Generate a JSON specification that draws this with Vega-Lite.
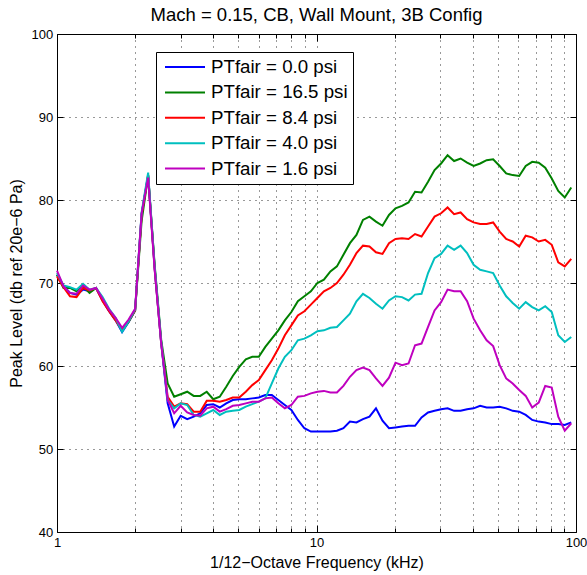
{
"$schema": "https://vega.github.io/schema/vega-lite/v6.json",
"width": 519, "height": 498,
"autosize": {"type": "none"},
"padding": {"left": 57, "top": 34, "right": 11, "bottom": 43},
"config": {"font": "Liberation Sans", "view": {"stroke": null}, "axis": {"domainColor": "black", "domainWidth": 1, "tickColor": "black", "labelColor": "black", "titleColor": "black", "titleFontWeight": "normal"}},
"title": {"text": "Mach = 0.15, CB, Wall Mount, 3B Config", "fontSize": 18.5, "fontWeight": "normal", "color": "black", "anchor": "middle", "offset": 3.5},
"data": {"values": [
{"f":1,"s":"0.0","v":71.0},{"f":1.0595,"s":"0.0","v":69.6},{"f":1.1225,"s":"0.0","v":68.8},{"f":1.1892,"s":"0.0","v":68.6},{"f":1.2599,"s":"0.0","v":69.2},{"f":1.3348,"s":"0.0","v":69.0},{"f":1.4142,"s":"0.0","v":69.4},{"f":1.4983,"s":"0.0","v":67.9},{"f":1.5874,"s":"0.0","v":66.6},{"f":1.6818,"s":"0.0","v":65.5},{"f":1.7818,"s":"0.0","v":64.1},{"f":1.8877,"s":"0.0","v":65.3},{"f":2,"s":"0.0","v":66.7},{"f":2.1189,"s":"0.0","v":78.3},{"f":2.2449,"s":"0.0","v":83.0},{"f":2.3784,"s":"0.0","v":71.8},{"f":2.5198,"s":"0.0","v":62.8},{"f":2.6697,"s":"0.0","v":55.5},{"f":2.8284,"s":"0.0","v":52.7},
{"f":2.9966,"s":"0.0","v":54.0},{"f":3.1748,"s":"0.0","v":53.6},{"f":3.3636,"s":"0.0","v":53.9},{"f":3.5636,"s":"0.0","v":54.3},{"f":3.7755,"s":"0.0","v":55.3},{"f":4,"s":"0.0","v":55.4},{"f":4.2379,"s":"0.0","v":55.0},{"f":4.4898,"s":"0.0","v":55.5},{"f":4.7568,"s":"0.0","v":55.9},{"f":5.0397,"s":"0.0","v":56.0},{"f":5.3394,"s":"0.0","v":56.0},{"f":5.6569,"s":"0.0","v":56.1},{"f":5.9932,"s":"0.0","v":56.2},{"f":6.3496,"s":"0.0","v":56.5},{"f":6.7272,"s":"0.0","v":56.5},{"f":7.1272,"s":"0.0","v":55.9},{"f":7.551,"s":"0.0","v":55.3},{"f":8,"s":"0.0","v":54.7},{"f":8.4757,"s":"0.0","v":53.5},{"f":8.9797,"s":"0.0","v":52.5},{"f":9.5137,"s":"0.0","v":52.1},{"f":10.0794,"s":"0.0","v":52.1},
{"f":10.6787,"s":"0.0","v":52.1},{"f":11.3137,"s":"0.0","v":52.1},{"f":11.9865,"s":"0.0","v":52.2},{"f":12.6992,"s":"0.0","v":52.5},{"f":13.4543,"s":"0.0","v":53.3},{"f":14.2544,"s":"0.0","v":53.2},{"f":15.102,"s":"0.0","v":53.6},{"f":16,"s":"0.0","v":53.9},{"f":16.9514,"s":"0.0","v":54.9},{"f":17.9594,"s":"0.0","v":53.4},{"f":19.0273,"s":"0.0","v":52.5},{"f":20.1587,"s":"0.0","v":52.6},{"f":21.3574,"s":"0.0","v":52.7},{"f":22.6274,"s":"0.0","v":52.8},{"f":23.973,"s":"0.0","v":52.8},{"f":25.3984,"s":"0.0","v":53.8},{"f":26.9087,"s":"0.0","v":54.4},{"f":28.5088,"s":"0.0","v":54.6},{"f":30.204,"s":"0.0","v":54.8},
{"f":32,"s":"0.0","v":54.9},{"f":33.9028,"s":"0.0","v":54.6},{"f":35.9188,"s":"0.0","v":54.6},{"f":38.0546,"s":"0.0","v":54.8},{"f":40.3175,"s":"0.0","v":54.9},{"f":42.7149,"s":"0.0","v":55.2},{"f":45.2548,"s":"0.0","v":55.0},{"f":47.946,"s":"0.0","v":55.0},{"f":50.7968,"s":"0.0","v":55.1},{"f":53.8174,"s":"0.0","v":54.9},{"f":57.0175,"s":"0.0","v":54.6},{"f":60.408,"s":"0.0","v":54.5},{"f":64,"s":"0.0","v":54.1},{"f":67.8056,"s":"0.0","v":53.5},{"f":71.8376,"s":"0.0","v":53.3},{"f":76.1093,"s":"0.0","v":53.2},{"f":80.6349,"s":"0.0","v":53.0},{"f":85.4298,"s":"0.0","v":53.0},{"f":90.5097,"s":"0.0","v":52.9},{"f":95.874,"s":"0.0","v":53.2},

{"f":1,"s":"16.5","v":71.0},{"f":1.0595,"s":"16.5","v":69.4},{"f":1.1225,"s":"16.5","v":69.4},{"f":1.1892,"s":"16.5","v":69.0},{"f":1.2599,"s":"16.5","v":69.6},{"f":1.3348,"s":"16.5","v":68.8},{"f":1.4142,"s":"16.5","v":69.4},{"f":1.4983,"s":"16.5","v":68.0},{"f":1.5874,"s":"16.5","v":66.7},{"f":1.6818,"s":"16.5","v":65.6},{"f":1.7818,"s":"16.5","v":64.3},{"f":1.8877,"s":"16.5","v":65.3},{"f":2,"s":"16.5","v":66.7},{"f":2.1189,"s":"16.5","v":77.5},{"f":2.2449,"s":"16.5","v":82.9},{"f":2.3784,"s":"16.5","v":72.2},{"f":2.5198,"s":"16.5","v":63.2},{"f":2.6697,"s":"16.5","v":57.9},{"f":2.8284,"s":"16.5","v":56.3},
{"f":2.9966,"s":"16.5","v":56.6},{"f":3.1748,"s":"16.5","v":56.9},{"f":3.3636,"s":"16.5","v":56.4},{"f":3.5636,"s":"16.5","v":56.4},{"f":3.7755,"s":"16.5","v":56.9},{"f":4,"s":"16.5","v":56.0},{"f":4.2379,"s":"16.5","v":56.3},{"f":4.4898,"s":"16.5","v":57.5},{"f":4.7568,"s":"16.5","v":58.8},{"f":5.0397,"s":"16.5","v":59.9},{"f":5.3394,"s":"16.5","v":60.8},{"f":5.6569,"s":"16.5","v":61.1},{"f":5.9932,"s":"16.5","v":61.1},{"f":6.3496,"s":"16.5","v":62.3},{"f":6.7272,"s":"16.5","v":63.3},{"f":7.1272,"s":"16.5","v":64.3},{"f":7.551,"s":"16.5","v":65.5},{"f":8,"s":"16.5","v":66.5},{"f":8.4757,"s":"16.5","v":67.8},{"f":8.9797,"s":"16.5","v":68.4},{"f":9.5137,"s":"16.5","v":69.0},{"f":10.0794,"s":"16.5","v":70.0},
{"f":10.6787,"s":"16.5","v":70.4},{"f":11.3137,"s":"16.5","v":71.4},{"f":11.9865,"s":"16.5","v":72.0},{"f":12.6992,"s":"16.5","v":73.4},{"f":13.4543,"s":"16.5","v":74.8},{"f":14.2544,"s":"16.5","v":75.8},{"f":15.102,"s":"16.5","v":77.6},{"f":16,"s":"16.5","v":78.0},{"f":16.9514,"s":"16.5","v":77.4},{"f":17.9594,"s":"16.5","v":76.9},{"f":19.0273,"s":"16.5","v":78.2},{"f":20.1587,"s":"16.5","v":79.0},{"f":21.3574,"s":"16.5","v":79.3},{"f":22.6274,"s":"16.5","v":79.7},{"f":23.973,"s":"16.5","v":81.0},{"f":25.3984,"s":"16.5","v":80.9},{"f":26.9087,"s":"16.5","v":82.2},{"f":28.5088,"s":"16.5","v":83.6},{"f":30.204,"s":"16.5","v":84.4},
{"f":32,"s":"16.5","v":85.4},{"f":33.9028,"s":"16.5","v":84.7},{"f":35.9188,"s":"16.5","v":85.0},{"f":38.0546,"s":"16.5","v":84.5},{"f":40.3175,"s":"16.5","v":84.1},{"f":42.7149,"s":"16.5","v":84.4},{"f":45.2548,"s":"16.5","v":84.8},{"f":47.946,"s":"16.5","v":84.9},{"f":50.7968,"s":"16.5","v":84.1},{"f":53.8174,"s":"16.5","v":83.2},{"f":57.0175,"s":"16.5","v":83.0},{"f":60.408,"s":"16.5","v":82.9},{"f":64,"s":"16.5","v":84.1},{"f":67.8056,"s":"16.5","v":84.6},{"f":71.8376,"s":"16.5","v":84.5},{"f":76.1093,"s":"16.5","v":83.9},{"f":80.6349,"s":"16.5","v":82.6},{"f":85.4298,"s":"16.5","v":81.1},{"f":90.5097,"s":"16.5","v":80.3},{"f":95.874,"s":"16.5","v":81.5},

{"f":1,"s":"8.4","v":70.8},{"f":1.0595,"s":"8.4","v":69.5},{"f":1.1225,"s":"8.4","v":68.4},{"f":1.1892,"s":"8.4","v":68.3},{"f":1.2599,"s":"8.4","v":69.4},{"f":1.3348,"s":"8.4","v":69.1},{"f":1.4142,"s":"8.4","v":69.4},{"f":1.4983,"s":"8.4","v":67.8},{"f":1.5874,"s":"8.4","v":66.6},{"f":1.6818,"s":"8.4","v":65.5},{"f":1.7818,"s":"8.4","v":64.3},{"f":1.8877,"s":"8.4","v":65.4},{"f":2,"s":"8.4","v":66.7},{"f":2.1189,"s":"8.4","v":78.2},{"f":2.2449,"s":"8.4","v":83.0},{"f":2.3784,"s":"8.4","v":71.8},{"f":2.5198,"s":"8.4","v":62.8},{"f":2.6697,"s":"8.4","v":56.3},{"f":2.8284,"s":"8.4","v":55.1},
{"f":2.9966,"s":"8.4","v":55.5},{"f":3.1748,"s":"8.4","v":55.4},{"f":3.3636,"s":"8.4","v":54.5},{"f":3.5636,"s":"8.4","v":54.5},{"f":3.7755,"s":"8.4","v":55.8},{"f":4,"s":"8.4","v":55.8},{"f":4.2379,"s":"8.4","v":55.7},{"f":4.4898,"s":"8.4","v":55.9},{"f":4.7568,"s":"8.4","v":56.2},{"f":5.0397,"s":"8.4","v":56.2},{"f":5.3394,"s":"8.4","v":56.9},{"f":5.6569,"s":"8.4","v":57.7},{"f":5.9932,"s":"8.4","v":58.3},{"f":6.3496,"s":"8.4","v":59.5},{"f":6.7272,"s":"8.4","v":60.7},{"f":7.1272,"s":"8.4","v":62.1},{"f":7.551,"s":"8.4","v":63.7},{"f":8,"s":"8.4","v":64.9},{"f":8.4757,"s":"8.4","v":66.1},{"f":8.9797,"s":"8.4","v":66.6},{"f":9.5137,"s":"8.4","v":67.4},{"f":10.0794,"s":"8.4","v":68.2},
{"f":10.6787,"s":"8.4","v":69.0},{"f":11.3137,"s":"8.4","v":69.4},{"f":11.9865,"s":"8.4","v":70.0},{"f":12.6992,"s":"8.4","v":71.0},{"f":13.4543,"s":"8.4","v":72.2},{"f":14.2544,"s":"8.4","v":73.6},{"f":15.102,"s":"8.4","v":74.5},{"f":16,"s":"8.4","v":74.4},{"f":16.9514,"s":"8.4","v":73.7},{"f":17.9594,"s":"8.4","v":73.5},{"f":19.0273,"s":"8.4","v":74.8},{"f":20.1587,"s":"8.4","v":75.3},{"f":21.3574,"s":"8.4","v":75.4},{"f":22.6274,"s":"8.4","v":75.3},{"f":23.973,"s":"8.4","v":75.9},{"f":25.3984,"s":"8.4","v":75.6},{"f":26.9087,"s":"8.4","v":76.8},{"f":28.5088,"s":"8.4","v":78.0},{"f":30.204,"s":"8.4","v":78.4},
{"f":32,"s":"8.4","v":79.1},{"f":33.9028,"s":"8.4","v":78.3},{"f":35.9188,"s":"8.4","v":78.5},{"f":38.0546,"s":"8.4","v":77.7},{"f":40.3175,"s":"8.4","v":77.3},{"f":42.7149,"s":"8.4","v":77.1},{"f":45.2548,"s":"8.4","v":77.1},{"f":47.946,"s":"8.4","v":77.3},{"f":50.7968,"s":"8.4","v":76.2},{"f":53.8174,"s":"8.4","v":75.3},{"f":57.0175,"s":"8.4","v":75.0},{"f":60.408,"s":"8.4","v":74.4},{"f":64,"s":"8.4","v":75.7},{"f":67.8056,"s":"8.4","v":75.5},{"f":71.8376,"s":"8.4","v":75.0},{"f":76.1093,"s":"8.4","v":75.2},{"f":80.6349,"s":"8.4","v":74.6},{"f":85.4298,"s":"8.4","v":72.5},{"f":90.5097,"s":"8.4","v":72.0},{"f":95.874,"s":"8.4","v":72.9},

{"f":1,"s":"4.0","v":71.2},{"f":1.0595,"s":"4.0","v":69.7},{"f":1.1225,"s":"4.0","v":69.5},{"f":1.1892,"s":"4.0","v":69.2},{"f":1.2599,"s":"4.0","v":69.9},{"f":1.3348,"s":"4.0","v":69.2},{"f":1.4142,"s":"4.0","v":69.4},{"f":1.4983,"s":"4.0","v":68.3},{"f":1.5874,"s":"4.0","v":66.9},{"f":1.6818,"s":"4.0","v":65.8},{"f":1.7818,"s":"4.0","v":64.1},{"f":1.8877,"s":"4.0","v":65.4},{"f":2,"s":"4.0","v":66.8},{"f":2.1189,"s":"4.0","v":78.5},{"f":2.2449,"s":"4.0","v":83.3},{"f":2.3784,"s":"4.0","v":72.0},{"f":2.5198,"s":"4.0","v":63.0},{"f":2.6697,"s":"4.0","v":55.9},{"f":2.8284,"s":"4.0","v":54.9},
{"f":2.9966,"s":"4.0","v":55.5},{"f":3.1748,"s":"4.0","v":55.3},{"f":3.3636,"s":"4.0","v":54.1},{"f":3.5636,"s":"4.0","v":53.9},{"f":3.7755,"s":"4.0","v":54.3},{"f":4,"s":"4.0","v":54.7},{"f":4.2379,"s":"4.0","v":54.1},{"f":4.4898,"s":"4.0","v":54.5},{"f":4.7568,"s":"4.0","v":54.6},{"f":5.0397,"s":"4.0","v":54.7},{"f":5.3394,"s":"4.0","v":55.1},{"f":5.6569,"s":"4.0","v":55.4},{"f":5.9932,"s":"4.0","v":55.7},{"f":6.3496,"s":"4.0","v":56.1},{"f":6.7272,"s":"4.0","v":57.9},{"f":7.1272,"s":"4.0","v":59.7},{"f":7.551,"s":"4.0","v":61.1},{"f":8,"s":"4.0","v":61.9},{"f":8.4757,"s":"4.0","v":63.1},{"f":8.9797,"s":"4.0","v":63.3},{"f":9.5137,"s":"4.0","v":63.7},{"f":10.0794,"s":"4.0","v":64.2},
{"f":10.6787,"s":"4.0","v":64.3},{"f":11.3137,"s":"4.0","v":64.6},{"f":11.9865,"s":"4.0","v":64.7},{"f":12.6992,"s":"4.0","v":65.5},{"f":13.4543,"s":"4.0","v":66.3},{"f":14.2544,"s":"4.0","v":67.8},{"f":15.102,"s":"4.0","v":68.7},{"f":16,"s":"4.0","v":68.2},{"f":16.9514,"s":"4.0","v":67.5},{"f":17.9594,"s":"4.0","v":66.9},{"f":19.0273,"s":"4.0","v":67.9},{"f":20.1587,"s":"4.0","v":68.4},{"f":21.3574,"s":"4.0","v":68.3},{"f":22.6274,"s":"4.0","v":67.9},{"f":23.973,"s":"4.0","v":68.6},{"f":25.3984,"s":"4.0","v":68.7},{"f":26.9087,"s":"4.0","v":71.2},{"f":28.5088,"s":"4.0","v":73.0},{"f":30.204,"s":"4.0","v":73.5},
{"f":32,"s":"4.0","v":74.5},{"f":33.9028,"s":"4.0","v":74.0},{"f":35.9188,"s":"4.0","v":74.5},{"f":38.0546,"s":"4.0","v":73.6},{"f":40.3175,"s":"4.0","v":72.2},{"f":42.7149,"s":"4.0","v":71.6},{"f":45.2548,"s":"4.0","v":71.4},{"f":47.946,"s":"4.0","v":71.2},{"f":50.7968,"s":"4.0","v":69.7},{"f":53.8174,"s":"4.0","v":68.4},{"f":57.0175,"s":"4.0","v":67.6},{"f":60.408,"s":"4.0","v":66.9},{"f":64,"s":"4.0","v":67.7},{"f":67.8056,"s":"4.0","v":67.1},{"f":71.8376,"s":"4.0","v":66.7},{"f":76.1093,"s":"4.0","v":67.2},{"f":80.6349,"s":"4.0","v":66.5},{"f":85.4298,"s":"4.0","v":63.7},{"f":90.5097,"s":"4.0","v":62.9},{"f":95.874,"s":"4.0","v":63.5},

{"f":1,"s":"1.6","v":71.5},{"f":1.0595,"s":"1.6","v":69.6},{"f":1.1225,"s":"1.6","v":68.8},{"f":1.1892,"s":"1.6","v":68.7},{"f":1.2599,"s":"1.6","v":69.7},{"f":1.3348,"s":"1.6","v":69.2},{"f":1.4142,"s":"1.6","v":69.4},{"f":1.4983,"s":"1.6","v":68.1},{"f":1.5874,"s":"1.6","v":66.8},{"f":1.6818,"s":"1.6","v":65.8},{"f":1.7818,"s":"1.6","v":64.6},{"f":1.8877,"s":"1.6","v":65.6},{"f":2,"s":"1.6","v":66.9},{"f":2.1189,"s":"1.6","v":78.4},{"f":2.2449,"s":"1.6","v":82.7},{"f":2.3784,"s":"1.6","v":71.6},{"f":2.5198,"s":"1.6","v":62.8},{"f":2.6697,"s":"1.6","v":55.9},{"f":2.8284,"s":"1.6","v":54.3},
{"f":2.9966,"s":"1.6","v":55.2},{"f":3.1748,"s":"1.6","v":54.4},{"f":3.3636,"s":"1.6","v":54.1},{"f":3.5636,"s":"1.6","v":54.0},{"f":3.7755,"s":"1.6","v":54.9},{"f":4,"s":"1.6","v":55.1},{"f":4.2379,"s":"1.6","v":54.5},{"f":4.4898,"s":"1.6","v":54.8},{"f":4.7568,"s":"1.6","v":55.2},{"f":5.0397,"s":"1.6","v":55.3},{"f":5.3394,"s":"1.6","v":55.5},{"f":5.6569,"s":"1.6","v":55.7},{"f":5.9932,"s":"1.6","v":55.7},{"f":6.3496,"s":"1.6","v":56.1},{"f":6.7272,"s":"1.6","v":56.2},{"f":7.1272,"s":"1.6","v":55.5},{"f":7.551,"s":"1.6","v":54.9},{"f":8,"s":"1.6","v":55.3},{"f":8.4757,"s":"1.6","v":56.3},{"f":8.9797,"s":"1.6","v":56.4},{"f":9.5137,"s":"1.6","v":56.7},{"f":10.0794,"s":"1.6","v":56.9},
{"f":10.6787,"s":"1.6","v":57.0},{"f":11.3137,"s":"1.6","v":56.8},{"f":11.9865,"s":"1.6","v":56.8},{"f":12.6992,"s":"1.6","v":57.6},{"f":13.4543,"s":"1.6","v":58.7},{"f":14.2544,"s":"1.6","v":59.5},{"f":15.102,"s":"1.6","v":59.8},{"f":16,"s":"1.6","v":59.5},{"f":16.9514,"s":"1.6","v":58.5},{"f":17.9594,"s":"1.6","v":57.6},{"f":19.0273,"s":"1.6","v":58.6},{"f":20.1587,"s":"1.6","v":60.4},{"f":21.3574,"s":"1.6","v":60.1},{"f":22.6274,"s":"1.6","v":60.3},{"f":23.973,"s":"1.6","v":62.5},{"f":25.3984,"s":"1.6","v":62.7},{"f":26.9087,"s":"1.6","v":64.7},{"f":28.5088,"s":"1.6","v":66.7},{"f":30.204,"s":"1.6","v":67.7},
{"f":32,"s":"1.6","v":69.2},{"f":33.9028,"s":"1.6","v":69.0},{"f":35.9188,"s":"1.6","v":69.0},{"f":38.0546,"s":"1.6","v":67.8},{"f":40.3175,"s":"1.6","v":65.7},{"f":42.7149,"s":"1.6","v":64.3},{"f":45.2548,"s":"1.6","v":63.1},{"f":47.946,"s":"1.6","v":62.4},{"f":50.7968,"s":"1.6","v":60.1},{"f":53.8174,"s":"1.6","v":58.5},{"f":57.0175,"s":"1.6","v":57.9},{"f":60.408,"s":"1.6","v":57.1},{"f":64,"s":"1.6","v":56.4},{"f":67.8056,"s":"1.6","v":55.0},{"f":71.8376,"s":"1.6","v":55.6},{"f":76.1093,"s":"1.6","v":57.6},{"f":80.6349,"s":"1.6","v":57.4},{"f":85.4298,"s":"1.6","v":53.9},{"f":90.5097,"s":"1.6","v":52.2},{"f":95.874,"s":"1.6","v":53.1}
]},
"layer": [
{
"mark": {"type": "line", "opacity": 0},
"encoding": {
"x": {"field": "f", "type": "quantitative", "scale": {"type": "log", "domain": [1, 100]},
"axis": {"orient": "top", "values": [1,2,3,4,5,6,7,8,9,10,20,30,40,50,60,70,80,90,100], "labels": false, "grid": false, "title": null,
"tickSize": {"condition": {"test": "datum.value==1||datum.value==10||datum.value==100", "value": -7}, "value": -4}}},
"y": {"field": "v", "type": "quantitative", "scale": {"domain": [40, 100]},
"axis": {"orient": "right", "values": [40,50,60,70,80,90,100], "labels": false, "grid": false, "title": null, "tickSize": -6}},
"detail": {"field": "s"}
}
},
{
"mark": {"type": "line", "strokeWidth": 2},
"encoding": {
"x": {"field": "f", "type": "quantitative", "scale": {"type": "log", "domain": [1, 100]},
"axis": {"orient": "bottom", "values": [1,2,3,4,5,6,7,8,9,10,20,30,40,50,60,70,80,90,100],
"labelExpr": "datum.value==1||datum.value==10||datum.value==100 ? datum.value + '' : ''",
"labelFontSize": 13, "labelPadding": 11.5, "labelFlush": false, "labelOverlap": false,
"grid": true, "gridDash": [1, 5], "gridColor": "#333333", "gridWidth": 1,
"tickSize": {"condition": {"test": "datum.value==1||datum.value==10||datum.value==100", "value": -7}, "value": -4},
"title": "1/12−Octave Frequency (kHz)", "titleFontSize": 16, "titlePadding": 2}},
"y": {"field": "v", "type": "quantitative", "scale": {"domain": [40, 100]},
"axis": {"orient": "left", "values": [40,50,60,70,80,90,100], "labelFontSize": 13, "labelPadding": 10.3,
"grid": true, "gridDash": [1, 5], "gridColor": "#333333", "gridWidth": 1, "tickSize": -6,
"title": "Peak Level (db ref 20e−6 Pa)", "titleFontSize": 16, "titlePadding": 7}},
"color": {"field": "s", "type": "nominal", "sort": null,
"scale": {"domain": ["0.0","16.5","8.4","4.0","1.6"], "range": ["#0000ff","#008000","#ff0000","#00bfbf","#bf00bf"]},
"legend": {"orient": "none", "legendX": 99, "legendY": 18, "title": null, "symbolType": "stroke", "symbolSize": 1600, "symbolStrokeWidth": 2, "symbolOffset": 3,
"clipHeight": 20, "labelFontSize": 18.7, "labelColor": "black", "labelOffset": 5, "labelExpr": "'PTfair = ' + datum.label + ' psi'",
"fillColor": "white", "strokeColor": "black", "padding": 5, "rowPadding": 5.4}}
}
}
],
"resolve": {"axis": {"x": "independent", "y": "independent"}}
}
